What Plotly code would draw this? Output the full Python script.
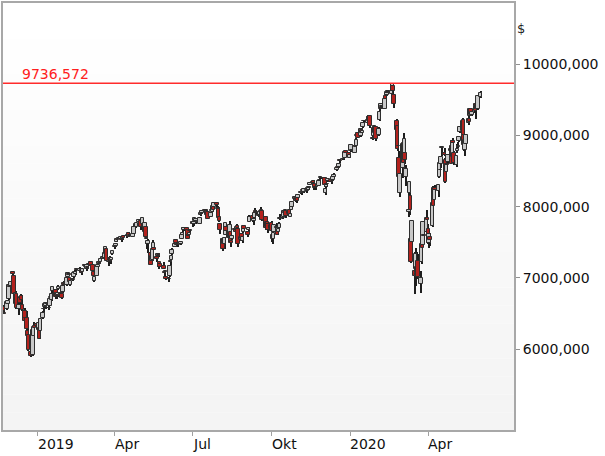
import pandas as pd
import plotly.graph_objects as go

# ---------------- data (daily OHLC) ----------------
holidays = ["2018-11-22", "2018-12-05", "2018-12-25", "2019-01-01", "2019-01-21",
            "2019-02-18", "2019-04-19", "2019-05-27", "2019-07-04", "2019-09-02",
            "2019-11-28", "2019-12-25", "2020-01-01", "2020-01-20", "2020-02-17",
            "2020-04-10", "2020-05-25"]
first_day = "2018-11-19"
last_day = "2020-06-01"

opens = [
    6800, 6540, 6590, 6500, 6560, 6640, 6700, 6880, 6890,
    7080, 7020, 6630, 6780, 6570, 6720, 6720, 6740, 6620, 6540, 6440, 6440, 6250, 6200, 5960, 5920, 6180, 6320, 6350,
    6270, 6300, 6250, 6440, 6560, 6590, 6600, 6630, 6580, 6600, 6720, 6690, 6820, 6830, 6790, 6760, 6840, 6790, 6780, 6800, 6930,
    6920, 6900, 7010, 7060, 7000, 6900, 6980, 7010, 7090, 7060, 7120, 7100, 7130, 7110, 7090, 7180, 7150, 7130, 7160,
    7180, 7220, 7180, 7180, 7080, 6960, 7030, 7160, 7200, 7220, 7220, 7270, 7300, 7280, 7330, 7400, 7220, 7260, 7280, 7250, 7330,
    7430, 7450, 7510, 7540, 7550, 7550, 7550, 7540, 7585, 7590, 7585, 7610, 7630, 7590, 7580, 7620, 7715, 7760, 7720, 7780, 7790,
    7800, 7710, 7760, 7650, 7710, 7550, 7480, 7470, 7350, 7240, 7250, 7420, 7420, 7300, 7310, 7320, 7230, 7200, 7170, 7080, 7080, 7010,
    6990, 7030, 7220, 7250, 7330, 7440, 7530, 7470, 7480, 7460, 7470, 7550, 7600, 7700, 7670, 7700, 7670, 7600, 7610, 7660,
    7780, 7760, 7800, 7800, 7790, 7760, 7890, 7920, 7910, 7950, 7945, 7940, 7860, 7930, 7860, 7940, 7930, 8000, 7990, 8050, 7970, 7970,
    7860, 7760, 7550, 7480, 7470, 7610, 7720, 7630, 7560, 7640, 7520, 7540, 7680, 7680, 7690, 7730, 7690, 7530, 7620, 7520, 7640, 7730,
    7640, 7670, 7790, 7860, 7870, 7800, 7840, 7940, 7930, 7870, 7890, 7920, 7950, 7940, 7800, 7850, 7710, 7790, 7760, 7690,
    7770, 7610, 7550, 7650, 7720, 7670, 7650, 7700, 7830, 7840, 7860, 7930, 7950, 7940, 7900, 7950, 7860, 7960, 8000, 8110, 8130, 8090, 8120,
    8130, 8200, 8210, 8200, 8230, 8210, 8220, 8240, 8240, 8260, 8310, 8340, 8360, 8320, 8280, 8280, 8290, 8370, 8400, 8400,
    8410, 8200, 8280, 8320, 8360, 8380, 8350, 8360, 8380, 8420, 8510, 8560, 8560, 8560, 8650, 8670, 8670, 8680, 8790, 8760, 8690,
    8780, 8780, 8760, 8850, 8850, 9000, 9030, 8990, 9080, 9040, 9120, 9200, 9180, 9260, 9210, 9270, 8960, 9000, 9130, 9040, 9120,
    9010, 9220, 9400, 9390, 9410, 9380, 9550, 9560, 9570, 9610, 9580, 9680, 9700, 9570, 9200, 9140, 8850, 8690, 8200,
    8540, 8900, 8730, 8760, 8420, 7920, 8190, 8150, 7550, 7510, 7100, 7120, 7020, 7070, 7240, 6910, 7230, 7500, 7460, 7600, 7640, 7840,
    7690, 7490, 7580, 7730, 8260, 8100, 8260, 8220, 8420, 8510, 8600, 8830, 8760, 8660, 8490, 8600, 8630, 8790, 8850, 8700, 8920,
    8760, 8590, 8780, 8840, 8930, 9050, 9070, 9220, 9010, 8800, 8880, 9180, 9230, 9280, 9370, 9290, 9450, 9380, 9430, 9380, 9540,
]
highs = [
    6805, 6600, 6620, 6560, 6670, 6690, 6905, 6910, 6950,
    7086, 7035, 6800, 6810, 6650, 6730, 6780, 6760, 6660, 6580, 6480, 6540, 6320, 6250, 6000, 6262, 6310, 6380, 6365,
    6390, 6310, 6440, 6540, 6590, 6660, 6660, 6640, 6600, 6720, 6770, 6800, 6880, 6840, 6810, 6790, 6900, 6810, 6800, 6900, 6960,
    6950, 7000, 7070, 7070, 7005, 6965, 7000, 7070, 7110, 7110, 7125, 7150, 7140, 7120, 7135, 7200, 7190, 7180, 7175,
    7200, 7240, 7190, 7185, 7085, 7020, 7160, 7210, 7240, 7230, 7280, 7310, 7340, 7370, 7440, 7420, 7260, 7310, 7290, 7290, 7380,
    7460, 7480, 7560, 7550, 7570, 7580, 7560, 7575, 7590, 7600, 7600, 7630, 7640, 7605, 7620, 7730, 7740, 7770, 7780, 7815, 7800,
    7820, 7760, 7850, 7780, 7720, 7610, 7510, 7540, 7370, 7340, 7430, 7530, 7480, 7320, 7350, 7350, 7240, 7220, 7230, 7100, 7110, 7030,
    7010, 7175, 7240, 7310, 7420, 7510, 7540, 7490, 7510, 7480, 7520, 7640, 7640, 7720, 7720, 7710, 7675, 7630, 7640, 7680,
    7800, 7785, 7840, 7840, 7800, 7850, 7930, 7930, 7945, 7960, 7965, 7950, 7900, 7940, 7920, 7955, 8015, 8010, 8070, 8055, 8010, 8000,
    7990, 7770, 7560, 7550, 7580, 7770, 7730, 7640, 7800, 7660, 7530, 7610, 7720, 7700, 7730, 7760, 7730, 7580, 7625, 7580, 7710, 7740,
    7660, 7710, 7880, 7870, 7880, 7830, 7915, 7980, 7950, 7900, 7935, 7945, 7990, 7960, 7840, 7860, 7800, 7800, 7770, 7760,
    7800, 7620, 7640, 7750, 7770, 7700, 7700, 7780, 7900, 7870, 7960, 7950, 7970, 7950, 7940, 7960, 7900, 8020, 8080, 8150, 8140, 8130, 8125,
    8165, 8215, 8230, 8210, 8260, 8250, 8240, 8290, 8280, 8285, 8345, 8350, 8370, 8330, 8290, 8290, 8360, 8385, 8420, 8410,
    8415, 8260, 8320, 8330, 8400, 8400, 8380, 8390, 8460, 8470, 8550, 8570, 8570, 8605, 8660, 8680, 8680, 8775, 8795, 8770, 8735,
    8873, 8840, 8850, 8870, 8960, 9020, 9040, 9095, 9090, 9100, 9175, 9215, 9240, 9290, 9260, 9290, 9010, 9120, 9150, 9130, 9140,
    9120, 9340, 9410, 9450, 9440, 9520, 9580, 9615, 9630, 9625, 9650, 9736.572, 9710, 9590, 9230, 9160, 9020, 8780, 8470,
    8880, 9040, 8950, 8800, 8590, 8200, 8350, 8180, 7710, 7810, 7360, 7420, 7180, 7360, 7330, 7100, 7480, 7620, 7790, 7700, 7850, 7960,
    7760, 7640, 7630, 8060, 8290, 8240, 8300, 8310, 8630, 8580, 8720, 8850, 8830, 8690, 8610, 8700, 8740, 8840, 8860, 8930, 8960,
    8780, 8710, 8880, 8910, 8990, 9125, 9210, 9250, 9060, 8950, 9020, 9260, 9270, 9380, 9390, 9330, 9460, 9420, 9470, 9560, 9620,
]
lows = [
    6625, 6500, 6530, 6490, 6550, 6610, 6690, 6840, 6860,
    6990, 6770, 6600, 6560, 6480, 6590, 6700, 6650, 6530, 6330, 6380, 6240, 6120, 5970, 5895, 5900, 6080, 6250, 6290,
    6260, 6145, 6240, 6420, 6500, 6570, 6570, 6590, 6550, 6600, 6710, 6680, 6790, 6700, 6700, 6730, 6830, 6740, 6710, 6790, 6890,
    6870, 6880, 7000, 7020, 6900, 6880, 6950, 7000, 7070, 7040, 7080, 7090, 7090, 7040, 7080, 7160, 7140, 7100, 7130,
    7150, 7110, 7150, 7090, 7000, 6940, 7030, 7160, 7190, 7200, 7215, 7260, 7260, 7270, 7320, 7240, 7170, 7250, 7190, 7230, 7320,
    7410, 7440, 7500, 7510, 7540, 7540, 7510, 7530, 7545, 7570, 7560, 7590, 7570, 7570, 7570, 7615, 7700, 7690, 7700, 7770, 7720,
    7715, 7670, 7755, 7640, 7540, 7540, 7400, 7350, 7180, 7220, 7240, 7410, 7390, 7220, 7290, 7300, 7120, 7150, 7120, 7010, 7060, 6970,
    6937, 7010, 7170, 7220, 7320, 7430, 7450, 7440, 7470, 7430, 7465, 7540, 7580, 7640, 7660, 7670, 7540, 7580, 7600, 7620,
    7720, 7730, 7795, 7760, 7760, 7755, 7870, 7875, 7900, 7930, 7930, 7880, 7830, 7830, 7850, 7900, 7925, 7940, 7980, 7990, 7960, 7790,
    7780, 7620, 7380, 7440, 7400, 7600, 7620, 7540, 7550, 7480, 7440, 7530, 7670, 7630, 7680, 7660, 7440, 7520, 7530, 7490, 7630, 7660,
    7580, 7650, 7780, 7830, 7790, 7750, 7830, 7910, 7890, 7860, 7880, 7860, 7930, 7800, 7790, 7680, 7680, 7710, 7630, 7690,
    7650, 7500, 7480, 7640, 7700, 7600, 7640, 7680, 7820, 7830, 7855, 7910, 7920, 7840, 7890, 7860, 7850, 7950, 7990, 8100, 8070, 8060, 8050,
    8110, 8180, 8190, 8160, 8210, 8190, 8200, 8230, 8230, 8240, 8300, 8320, 8320, 8240, 8240, 8240, 8290, 8350, 8390, 8390,
    8280, 8170, 8270, 8280, 8350, 8350, 8320, 8350, 8360, 8400, 8500, 8530, 8540, 8550, 8620, 8650, 8660, 8680, 8740, 8680, 8680,
    8770, 8770, 8750, 8830, 8840, 8970, 8960, 8980, 9030, 9030, 9110, 9170, 9170, 9210, 9170, 9100, 8940, 8990, 9080, 9000, 8920,
    9000, 9210, 9290, 9370, 9370, 9370, 9500, 9550, 9560, 9580, 9570, 9670, 9530, 9390, 9040, 8780, 8830, 8420, 8140,
    8400, 8540, 8670, 8600, 8290, 7860, 7950, 7890, 7210, 7300, 6780, 6930, 6880, 6980, 6990, 6790, 7190, 7330, 7440, 7520, 7600, 7780,
    7480, 7420, 7450, 7720, 8000, 8050, 8180, 8140, 8410, 8450, 8550, 8720, 8710, 8330, 8480, 8580, 8600, 8750, 8600, 8690, 8840,
    8590, 8560, 8760, 8830, 8910, 9030, 9060, 9000, 8780, 8720, 8870, 9150, 9180, 9270, 9270, 9270, 9320, 9230, 9360, 9360, 9530,
]
closes = [
    6640, 6526, 6540, 6495, 6665, 6680, 6900, 6868, 6949,
    7049, 6774, 6790, 6584, 6626, 6651, 6719, 6694, 6549, 6396, 6431, 6281, 6180, 5991, 5899, 6262, 6309, 6292, 6330,
    6360, 6147, 6423, 6506, 6563, 6628, 6652, 6631, 6571, 6710, 6724, 6773, 6867, 6737, 6746, 6786, 6874, 6780, 6720, 6891, 6906,
    6900, 7000, 7063, 7040, 6943, 6962, 6967, 7064, 7081, 7087, 7114, 7130, 7125, 7066, 7131, 7162, 7163, 7176, 7139,
    7196, 7171, 7174, 7100, 7029, 7009, 7156, 7184, 7218, 7209, 7262, 7296, 7285, 7345, 7430, 7241, 7219, 7282, 7242, 7278, 7378,
    7450, 7472, 7543, 7532, 7565, 7573, 7527, 7572, 7560, 7588, 7595, 7599, 7578, 7598, 7613, 7713, 7716, 7716, 7778, 7810, 7781,
    7716, 7717, 7845, 7767, 7570, 7554, 7494, 7520, 7184, 7306, 7413, 7486, 7398, 7264, 7341, 7313, 7155, 7155, 7127, 7069, 7092, 6979,
    6978, 7170, 7237, 7305, 7389, 7477, 7489, 7456, 7494, 7459, 7505, 7599, 7626, 7697, 7697, 7668, 7553, 7589, 7633, 7671,
    7757, 7781, 7840, 7823, 7793, 7845, 7906, 7897, 7942, 7953, 7944, 7880, 7891, 7834, 7913, 7953, 8010, 7961, 8059, 8021, 7982, 7848,
    7804, 7673, 7413, 7540, 7565, 7765, 7665, 7563, 7742, 7491, 7486, 7593, 7691, 7640, 7717, 7700, 7472, 7574, 7549, 7568, 7700, 7690,
    7609, 7704, 7857, 7852, 7830, 7829, 7913, 7932, 7906, 7890, 7930, 7937, 7936, 7819, 7815, 7699, 7791, 7740, 7673, 7749,
    7660, 7548, 7632, 7743, 7706, 7601, 7690, 7752, 7849, 7843, 7945, 7915, 7949, 7864, 7935, 7868, 7894, 8012, 8068, 8141, 8085, 8118, 8083,
    8161, 8212, 8198, 8202, 8226, 8247, 8234, 8265, 8267, 8275, 8340, 8337, 8337, 8283, 8262, 8273, 8356, 8380, 8412, 8403,
    8309, 8254, 8302, 8320, 8393, 8354, 8348, 8385, 8423, 8449, 8544, 8546, 8551, 8601, 8640, 8671, 8665, 8771, 8761, 8702, 8733,
    8873, 8794, 8849, 8846, 8935, 9001, 8973, 9094, 9043, 9060, 9174, 9210, 9223, 9221, 9259, 9137, 8953, 9112, 9090, 9117, 8952,
    9086, 9335, 9368, 9450, 9402, 9517, 9518, 9613, 9596, 9623, 9632, 9718, 9625, 9446, 9079, 8812, 8852, 8425, 8461,
    8877, 8620, 8949, 8664, 8530, 7948, 8344, 7952, 7223, 7806, 7020, 7335, 7100, 7150, 7007, 6994, 7480, 7420, 7780, 7590, 7840, 7813,
    7487, 7619, 7528, 8052, 8008, 8229, 8238, 8307, 8621, 8515, 8700, 8833, 8734, 8343, 8595, 8593, 8734, 8816, 8604, 8921, 8890,
    8619, 8710, 8809, 8854, 8984, 9121, 9198, 9002, 8863, 8943, 9015, 9236, 9185, 9375, 9284, 9325, 9340, 9412, 9369, 9555, 9599,
]

record_high = 9736.572
record_label = "9736,572"

x_tick_dates = ["2019-01-01", "2019-04-01", "2019-07-01", "2019-10-01", "2020-01-01", "2020-04-01"]
x_tick_labels = ["2019", "Apr", "Jul", "Okt", "2020", "Apr"]
y_tick_vals = [6000, 7000, 8000, 9000, 10000]
y_tick_labels = ["6000,000", "7000,000", "8000,000", "9000,000", "10000,000"]
unit_label = "$"

# ---------------- build ----------------
dates = [d for d in pd.bdate_range(first_day, last_day) if d.strftime("%Y-%m-%d") not in holidays]
assert len(dates) == len(opens) == len(highs) == len(lows) == len(closes), (len(dates), len(opens), len(highs), len(lows), len(closes))

UP_FILL = "#c8c8c8"
DOWN_FILL = "#b3211d"
EDGE = "#2e2e2e"
DAY_MS = 86400000

body_base = [min(o, c) for o, c in zip(opens, closes)]
body_len = [max(abs(c - o), 6) for o, c in zip(opens, closes)]
body_col = [UP_FILL if c >= o else DOWN_FILL for o, c in zip(opens, closes)]
wick_len = [h - l for h, l in zip(highs, lows)]

fig = go.Figure()
fig.add_trace(go.Bar(x=dates, base=lows, y=wick_len, width=DAY_MS * 1.2,
                     marker=dict(color="#1e1e1e", line=dict(width=0)), hoverinfo="skip"))
fig.add_trace(go.Bar(x=dates, base=body_base, y=body_len, width=DAY_MS * 4.3,
                     marker=dict(color=body_col, line=dict(color=EDGE, width=1))))

# background gradient (white at top to light grey at bottom)
shapes = []
n_bands = 24
for i in range(n_bands):
    t = i / (n_bands - 1)
    g = int(round(244 + (255 - 244) * t))
    shapes.append(dict(type="rect", xref="paper", yref="paper", x0=0, x1=1,
                       y0=i / n_bands, y1=(i + 1) / n_bands, fillcolor=f"rgb({g},{g},{g})",
                       line=dict(width=0), layer="below"))
shapes.append(dict(type="line", xref="paper", yref="y", x0=0, x1=1, y0=record_high, y1=record_high,
                   line=dict(color="#ff2b2b", width=1.5)))

FONT = "DejaVu Sans"
annotations = [
    dict(text=record_label, xref="paper", yref="y", x=0.034, y=record_high, xanchor="left", yanchor="bottom",
         showarrow=False, font=dict(family=FONT, size=14, color="#ff2020"), yshift=-1),
    dict(text=unit_label, xref="paper", yref="paper", x=1, y=0.94, xanchor="left", yanchor="middle",
         showarrow=False, xshift=1, font=dict(family=FONT, size=13, color="#222222")),
]
for d, lab in zip(x_tick_dates, x_tick_labels):
    annotations.append(dict(text=lab, xref="x", yref="paper", x=d, y=0, xanchor="left", yanchor="top",
                            showarrow=False, yshift=-4, xshift=-2,
                            font=dict(family=FONT, size=14, color="#111111")))

fig.update_layout(
    width=605, height=456,
    margin=dict(l=1, r=91, t=1, b=26),
    paper_bgcolor="white", plot_bgcolor="white",
    barmode="overlay", bargap=0, showlegend=False,
    shapes=shapes, annotations=annotations,
    xaxis=dict(type="date", range=["2018-11-21 07:00", "2020-07-10"], showgrid=False, zeroline=False,
               showline=True, linecolor="#a8a8a8", linewidth=2, mirror=True,
               ticks="outside", ticklen=4, tickcolor="#a0a0a0", tickwidth=1,
               tickvals=x_tick_dates, showticklabels=False),
    yaxis=dict(side="right", range=[4863, 10863], showgrid=False, zeroline=False,
               showline=True, linecolor="#a8a8a8", linewidth=2, mirror=True,
               ticks="outside", ticklen=4, tickcolor="#909090", tickwidth=1,
               tickvals=y_tick_vals, ticktext=y_tick_labels,
               tickfont=dict(family=FONT, size=14, color="#111111")),
)

fig.write_html("out.html")
